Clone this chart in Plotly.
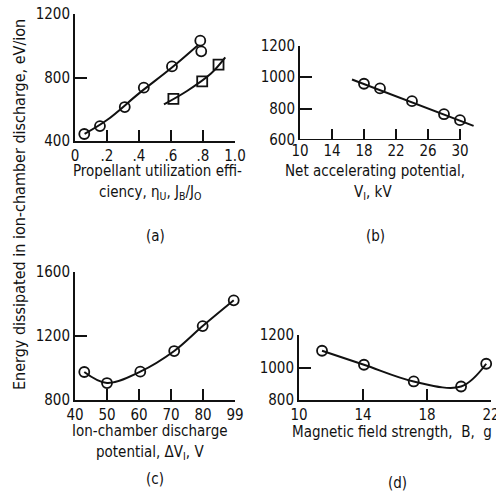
import plotly.graph_objects as go

W, H = 496, 493

# ---- data ----
a_circ_x = [0.058, 0.156, 0.311, 0.43, 0.606, 0.783, 0.789]
a_circ_y = [444, 494, 614, 736, 870, 1032, 965]
a_curve1_x = [0.06, 0.2, 0.4, 0.6, 0.77]
a_curve1_y = [445, 532, 700, 858, 1005]
a_sq_x = [0.615, 0.795, 0.897]
a_sq_y = [665, 776, 881]
a_curve2_x = [0.556, 0.7, 0.85, 0.939]
a_curve2_y = [631, 715, 825, 927]

b_x = [18, 20, 24, 28, 30]
b_y = [958, 928, 847, 764, 726]
b_line_x = [16.5, 31.7]
b_line_y = [985, 690]

c_x = [42.9, 50, 60.4, 71, 79.9, 89.6]
c_y = [975, 906, 977, 1106, 1262, 1423]

d_x = [11.44, 14.06, 17.17, 20.13, 21.7]
d_y = [1103, 1017, 914, 883, 1023]

a_xticks = [0, 0.2, 0.4, 0.6, 0.8, 1.0]
a_xtext = ["0", ".2", ".4", ".6", ".8", "1.0"]
a_yticks = [400, 800, 1200]
b_xticks = [10, 14, 18, 22, 26, 30]
b_yticks = [600, 800, 1000, 1200]
c_xticks = [40, 50, 60, 70, 80, 90]
c_xtext = ["40", "50", "60", "70", "80", "99"]
c_yticks = [800, 1200, 1600]
d_xticks = [10, 14, 18, 22]
d_yticks = [800, 1000, 1200]

FONT = "Liberation Sans Narrow, DejaVu Sans Condensed, Arial Narrow, sans-serif"
BLACK = "#111111"

def px_x(x0, x1):
    return [x0 / W, x1 / W]

def px_y(top, bottom):
    return [1 - bottom / H, 1 - top / H]

fig = go.Figure()

marker_c = dict(symbol="circle-open", size=10, color=BLACK, line=dict(width=1.8, color=BLACK))
marker_s = dict(symbol="square-open", size=10, color=BLACK, line=dict(width=1.8, color=BLACK))
line_kw = dict(color=BLACK, width=2)

# (a)
fig.add_trace(go.Scatter(x=a_curve1_x, y=a_curve1_y, mode="lines", line=dict(shape="spline", **line_kw), xaxis="x", yaxis="y"))
fig.add_trace(go.Scatter(x=a_curve2_x, y=a_curve2_y, mode="lines", line=dict(shape="spline", **line_kw), xaxis="x", yaxis="y"))
fig.add_trace(go.Scatter(x=a_circ_x, y=a_circ_y, mode="markers", marker=marker_c, xaxis="x", yaxis="y", cliponaxis=False))
fig.add_trace(go.Scatter(x=a_sq_x, y=a_sq_y, mode="markers", marker=marker_s, xaxis="x", yaxis="y", cliponaxis=False))
# (b)
fig.add_trace(go.Scatter(x=b_line_x, y=b_line_y, mode="lines", line=line_kw, xaxis="x2", yaxis="y2"))
fig.add_trace(go.Scatter(x=b_x, y=b_y, mode="markers", marker=marker_c, xaxis="x2", yaxis="y2", cliponaxis=False))
# (c)
fig.add_trace(go.Scatter(x=c_x, y=c_y, mode="lines+markers", line=dict(shape="spline", **line_kw), marker=marker_c, xaxis="x3", yaxis="y3", cliponaxis=False))
# (d)
fig.add_trace(go.Scatter(x=d_x, y=d_y, mode="lines+markers", line=dict(shape="spline", **line_kw), marker=marker_c, xaxis="x4", yaxis="y4", cliponaxis=False))

tickfont = dict(family=FONT, size=15, color=BLACK)

def xax(domain, rng, vals, text=None, anchor="y", showline=True):
    return dict(domain=domain, range=rng, tickvals=vals, ticktext=text or [str(v) for v in vals],
                ticks="inside", ticklen=11, tickwidth=2, tickcolor=BLACK, showline=showline,
                linecolor=BLACK, linewidth=2, showgrid=False, zeroline=False, anchor=anchor,
                tickfont=tickfont, fixedrange=True, automargin=False, ticklabeloverflow="allow")

def yax(domain, rng, vals, anchor="x"):
    return dict(domain=domain, range=rng, tickvals=vals, ticktext=[str(v) for v in vals],
                ticks="inside", ticklen=12, tickwidth=2, tickcolor=BLACK, showline=True,
                linecolor=BLACK, linewidth=2, showgrid=False, zeroline=False, anchor=anchor,
                tickfont=tickfont, fixedrange=True, automargin=False, ticklabeloverflow="allow")

layout = dict(
    width=W, height=H, margin=dict(l=0, r=0, t=0, b=0, pad=0, autoexpand=False),
    paper_bgcolor="white", plot_bgcolor="rgba(0,0,0,0)", showlegend=False,
    xaxis=xax(px_x(75, 235), [0, 1.0], a_xticks, a_xtext, "y"),
    yaxis=yax(px_y(14, 141), [400, 1200], a_yticks, "x"),
    xaxis2=xax(px_x(300, 476), [10, 32], b_xticks, None, "y2", showline=False),
    yaxis2=yax(px_y(45.7, 140), [600, 1200], b_yticks, "x2"),
    xaxis3=xax(px_x(75, 235), [40, 90], c_xticks, c_xtext, "y3"),
    yaxis3=yax(px_y(272, 400), [800, 1600], c_yticks, "x3"),
    xaxis4=xax(px_x(299, 491), [10, 22], d_xticks, None, "y4"),
    yaxis4=yax(px_y(335, 400), [800, 1200], d_yticks, "x4"),
)
fig.update_layout(**layout)

# x axis line of (b) stops at 30 while the fitted line runs past it
fig.add_shape(type="line", xref="x2", yref="y2", x0=b_xticks[0], x1=b_xticks[-1], y0=600, y1=600,
              line=dict(color=BLACK, width=2))

def ann(text, xpx, ypx, size=15, angle=0):
    fig.add_annotation(text=text, x=xpx / W, y=1 - ypx / H, xref="paper", yref="paper",
                       showarrow=False, xanchor="center", yanchor="middle",
                       font=dict(family=FONT, size=size, color=BLACK), textangle=angle)

ann("Energy dissipated in ion-chamber discharge, eV/ion", 19, 205, size=16, angle=-90)

ann("Propellant utilization effi-", 157, 171)
ann("ciency, η<sub>U</sub>, J<sub>B</sub>/J<sub>O</sub>", 150, 192)
ann("(a)", 155, 236)

ann("Net accelerating potential,", 375, 171)
ann("V<sub>I</sub>, kV", 373, 192)
ann("(b)", 375, 236)

ann("Ion-chamber discharge", 150, 431)
ann("potential, ΔV<sub>I</sub>, V", 150, 452)
ann("(c)", 155, 479)

ann("Magnetic field strength,  B,  g", 392, 432)
ann("(d)", 397, 483)

fig.write_html("out.html", config={"responsive": False, "displayModeBar": False},
               post_script="document.body.style.margin='0';document.body.style.overflow='hidden';")
